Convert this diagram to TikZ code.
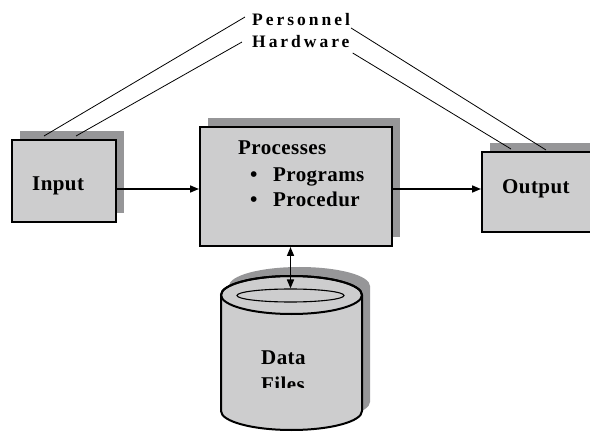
\documentclass[tikz,border=0pt]{standalone}
\usepackage{fontspec}
\setmainfont{Liberation Serif}
\newfontfamily\spacedfont[LetterSpace=17]{Liberation Serif}
\newfontfamily\boxfont[LetterSpace=2]{Liberation Serif}
\usetikzlibrary{shadows,arrows.meta,calc,shapes.geometric}
\definecolor{boxgray}{RGB}{205,205,206}
\definecolor{shadowgray}{RGB}{150,150,152}
\begin{document}
\begin{tikzpicture}[x=1pt,y=1pt,
  box/.style={draw=black, line width=2pt, fill=boxgray, inner sep=0pt,
    general shadow={shadow xshift=8pt, shadow yshift=9pt, fill=shadowgray}},
  boxtext/.style={inner sep=0pt, anchor=base west, font=\boxfont\fontsize{21}{25}\selectfont\bfseries},
  toptext/.style={inner sep=0pt, anchor=base west, font=\spacedfont\fontsize{17.5}{20}\selectfont\bfseries},
  thinline/.style={draw=black, line width=0.8pt},
  arr/.style={draw=black, line width=1.6pt, -{Triangle[length=9pt,width=7pt]}},
  darr/.style={draw=black, line width=1.6pt, {Triangle[length=9pt,width=7pt]}-{Triangle[length=9pt,width=7pt]}}]
\useasboundingbox (0,0) rectangle (590,432);
\fill[white] (0,0) rectangle (590,432);

% boxes
\node[box, minimum width=104pt, minimum height=82pt] (inp) at (64,251) {};
\node[box, minimum width=192pt, minimum height=119pt] (proc) at (296,245.5) {};
\node[box, minimum width=130pt, minimum height=80pt] (outp) at (547,240) {};

% cylinder
\begin{scope}[shift={(8,9)}]
  \fill[shadowgray] (221,137) -- (221,21) arc[start angle=180,end angle=360,x radius=70.5,y radius=19]
    -- (362,137) arc[start angle=0,end angle=180,x radius=70.5,y radius=19] -- cycle;
\end{scope}
\filldraw[fill=boxgray, draw=black, line width=2pt] (221,137) -- (221,21)
  arc[start angle=180,end angle=360,x radius=70.5,y radius=19]
  -- (362,137) arc[start angle=0,end angle=180,x radius=70.5,y radius=19] -- cycle;
\draw[line width=2pt] (291.5,137) ellipse[x radius=70.5,y radius=19];
\node[draw=black, ellipse, line width=1.1pt, minimum width=107pt, minimum height=13pt, inner sep=0pt] (rim) at (290.5,136.5) {};

% texts
\node[boxtext] (tin) at (32,241) {Input};
\node[boxtext] (tout) at (502,238) {Output};
\node[boxtext] (tproc) at (238,277) {Processes};
\node[boxtext] (b1) at (250,250) {\textbullet};
\node[boxtext] (tprog) at (273,250) {Programs};
\node[boxtext] (b2) at (250,225) {\textbullet};
\node[boxtext] (tpcd) at (273,225) {Procedur};
\node[boxtext] (tdata) at (261,68) {Data};
\begin{scope}
  \clip (222,45) rectangle (361,60);
  \node[boxtext] (tfiles) at (261,41) {Files};
\end{scope}
\node[toptext] (pers) at (252,406) {Personnel};
\node[toptext] (hw) at (252,384) {Hardware};

% connector end points
\coordinate (pIn) at ($(inp.north west)+(33,3)$);
\coordinate (hIn) at ($(inp.north west)+(65,3)$);
\coordinate (pOut) at ($(outp.north west)+(65,1)$);
\coordinate (hOut) at ($(outp.north west)+(30,2)$);
\coordinate (a1) at ([yshift=-8pt]inp.east);
\coordinate (a2) at ([yshift=-2.5pt]proc.east);

% thin lines
\draw[thinline] ([xshift=-7pt,yshift=3pt]pers.west) -- (pIn);
\draw[thinline] ([xshift=-10pt]hw.west) -- (hIn);
\draw[thinline] ([xshift=1pt,yshift=-2pt]pers.base east) -- (pOut);
\draw[thinline] ([xshift=3pt,yshift=-5pt]hw.base east) -- (hOut);

% arrows
\draw[arr] (a1) -- (proc.west |- a1);
\draw[arr] (a2) -- (outp.west |- a2);
\draw[darr] (rim.north) -- (rim.north |- proc.south);
\end{tikzpicture}
\end{document}
